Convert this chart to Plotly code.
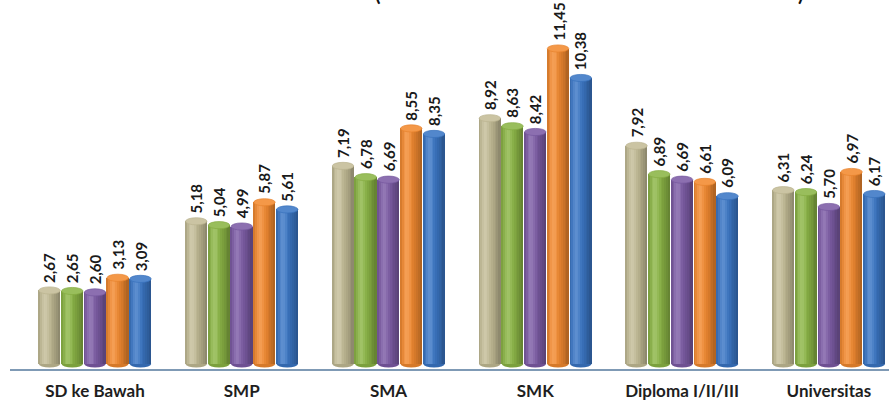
import plotly.graph_objects as go

# Categories (education level) and the five series drawn in each group
categories = ["SD ke Bawah", "SMP", "SMA", "SMK", "Diploma I/II/III", "Universitas"]
series_1 = [2.67, 5.18, 7.19, 8.92, 7.92, 6.31]
series_2 = [2.65, 5.04, 6.78, 8.63, 6.89, 6.24]
series_3 = [2.60, 4.99, 6.69, 8.42, 6.69, 5.70]
series_4 = [3.13, 5.87, 8.55, 11.45, 6.61, 6.97]
series_5 = [3.09, 5.61, 8.35, 10.38, 6.09, 6.17]
series_names = ["Seri 1", "Seri 2", "Seri 3", "Seri 4", "Seri 5"]

all_series = [series_1, series_2, series_3, series_4, series_5]
base_colors = ["#C4BD97", "#8CB646", "#7D5CA6", "#F38A30", "#3B77C6"]

BAR_W = 0.146      # width of one cylinder (category units)
PITCH = 0.155      # distance between neighbouring cylinders
STRIPES = 12       # vertical stripes used to shade each cylinder
CAP_H = 0.26       # height of the elliptic top cap (value units)


def hex_to_rgb(h):
    h = h.lstrip("#")
    return tuple(int(h[i:i + 2], 16) for i in (0, 2, 4))


def shade(h, t):
    """Colour across a cylinder: t=0 left edge, t=1 right edge."""
    r, g, b = hex_to_rgb(h)
    hl = 0.32
    if t < hl:
        dark = 0.16 * ((hl - t) / hl) ** 2
    else:
        dark = 0.30 * ((t - hl) / (1 - hl)) ** 1.6
    glow = 0.18 * pow(2.718, -((t - hl) / 0.18) ** 2)
    out = []
    for c in (r, g, b):
        c = c * (1 - dark)
        c = c + (255 - c) * glow
        out.append(int(max(0, min(255, c))))
    return "rgb(%d,%d,%d)" % tuple(out)


def tint(h, k):
    r, g, b = hex_to_rgb(h)
    if k >= 0:
        r, g, b = [c + (255 - c) * k for c in (r, g, b)]
    else:
        r, g, b = [c * (1 + k) for c in (r, g, b)]
    return "rgb(%d,%d,%d)" % (r, g, b)


fig = go.Figure()
shapes = []
annotations = []
n_cat = len(categories)

for j, (vals, col, name) in enumerate(zip(all_series, base_colors, series_names)):
    off = (j - 2) * PITCH
    centers = [i + off for i in range(n_cat)]
    sw = BAR_W / STRIPES
    for k in range(STRIPES):
        t = (k + 0.5) / STRIPES
        fig.add_trace(go.Bar(
            x=[c - BAR_W / 2 + (k + 0.5) * sw for c in centers],
            y=vals,
            width=sw * 1.08,
            marker=dict(color=shade(col, t), line=dict(width=0)),
            name=name,
            showlegend=False,
            hoverinfo="skip" if k else "y",
        ))
    for c, v in zip(centers, vals):
        # rounded bottom of the cylinder
        shapes.append(dict(type="circle", xref="x", yref="y", layer="below",
                           x0=c - BAR_W / 2, x1=c + BAR_W / 2,
                           y0=-CAP_H / 2, y1=CAP_H / 2,
                           fillcolor=tint(col, -0.12), line=dict(width=0)))
        # top cap
        shapes.append(dict(type="circle", xref="x", yref="y", layer="above",
                           x0=c - BAR_W / 2, x1=c + BAR_W / 2,
                           y0=v - CAP_H / 2, y1=v + CAP_H / 2,
                           fillcolor=tint(col, 0.12),
                           line=dict(width=0.7, color=tint(col, -0.05))))
        annotations.append(dict(x=c, y=v, xref="x", yref="y",
                                text="<b>%s</b>" % ("%.2f" % v).replace(".", ","),
                                textangle=-90, showarrow=False,
                                yanchor="bottom", xanchor="center", yshift=6,
                                font=dict(family="Lato", size=15, color="#1A1A1A")))

# Fragments of the heading above the plot
for px, ch in ((0.419, "("), (0.906, ")")):
    annotations.append(dict(x=px, y=1, xref="paper", yref="paper", text="<b>%s</b>" % ch,
                            showarrow=False, yanchor="bottom", yshift=-7,
                            font=dict(family="Lato", size=20, color="#111111")))

fig.update_layout(
    width=889, height=401,
    margin=dict(l=10, r=0, t=0, b=26),
    paper_bgcolor="white", plot_bgcolor="white",
    barmode="overlay", bargap=0,
    shapes=shapes, annotations=annotations,
    showlegend=False,
    xaxis=dict(range=[-0.579, 5.41], tickmode="array",
               tickvals=list(range(n_cat)), ticktext=categories,
               showgrid=False, zeroline=False, showline=True,
               linecolor="#7F9AB5", linewidth=2, ticks="",
               ticklabelstandoff=6,
               tickfont=dict(family="Lato", size=17, color="#1E1E1E", weight="bold")),
    yaxis=dict(range=[-0.18, 13.21], visible=False, showgrid=False, zeroline=False),
)

fig.write_html("out.html")
